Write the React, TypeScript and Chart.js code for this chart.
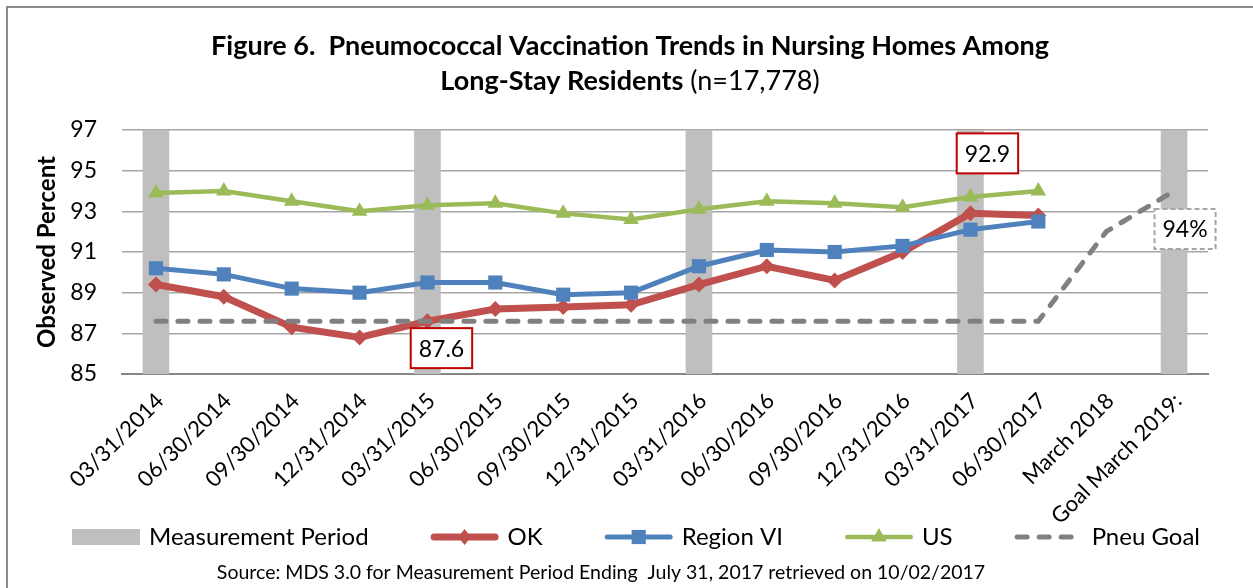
import React, { useEffect, useRef } from 'react';
import { Chart, registerables } from 'chart.js';

Chart.register(...registerables);

// ---------- data ----------
const categories = [
  '03/31/2014', '06/30/2014', '09/30/2014', '12/31/2014',
  '03/31/2015', '06/30/2015', '09/30/2015', '12/31/2015',
  '03/31/2016', '06/30/2016', '09/30/2016', '12/31/2016',
  '03/31/2017', '06/30/2017', 'March 2018', 'Goal March 2019:',
];
const measurementPeriod = [97, null, null, null, 97, null, null, null, 97, null, null, null, 97, null, null, 97];
const okValues = [89.4, 88.8, 87.3, 86.8, 87.6, 88.2, 88.3, 88.4, 89.4, 90.3, 89.6, 91.0, 92.9, 92.8, null, null];
const regionVIValues = [90.2, 89.9, 89.2, 89.0, 89.5, 89.5, 88.9, 89.0, 90.3, 91.1, 91.0, 91.3, 92.1, 92.5, null, null];
const usValues = [93.9, 94.0, 93.5, 93.0, 93.3, 93.4, 92.9, 92.6, 93.1, 93.5, 93.4, 93.2, 93.7, 94.0, null, null];
const pneuGoalValues = [87.6, 87.6, 87.6, 87.6, 87.6, 87.6, 87.6, 87.6, 87.6, 87.6, 87.6, 87.6, 87.6, 87.6, 92.0, 94.0];
const yMin = 85;
const yMax = 97;
const yStep = 2;

const titleLine1 = 'Figure 6.  Pneumococcal Vaccination Trends in Nursing Homes Among';
const titleLine2Bold = 'Long-Stay Residents';
const titleLine2Normal = ' (n=17,778)';
const yAxisTitle = 'Observed Percent';
const sourceText = 'Source: MDS 3.0 for Measurement Period Ending  July 31, 2017 retrieved on 10/02/2017';

// ---------- styles ----------
const FONT = 'Lato';
const GRAY_BAR = '#bfbfbf';
const RED = '#c0504d';
const BLUE = '#4f81bd';
const GREEN = '#9bbb59';
const GOAL_GRAY = '#808080';

const callouts = [
  { dataset: 1, index: 4, dx: 14, dy: 27, border: '#c00000', dash: [] as number[], suffix: '', digits: 1 },
  { dataset: 1, index: 12, dx: 17, dy: -60, border: '#c00000', dash: [] as number[], suffix: '', digits: 1 },
  { dataset: 4, index: 15, dx: 11, dy: 38, border: '#a6a6a6', dash: [5, 3], suffix: '%', digits: 0 },
];

const titlePlugin = {
  id: 'customTitle',
  afterDraw(chart: any) {
    const ctx = chart.ctx as CanvasRenderingContext2D;
    ctx.save();
    ctx.fillStyle = '#000';
    ctx.textBaseline = 'middle';
    ctx.textAlign = 'center';
    ctx.font = `bold 27px ${FONT}`;
    ctx.fillText(titleLine1, 630, 46);
    const w1 = ctx.measureText(titleLine2Bold).width;
    ctx.font = `27px ${FONT}`;
    const w2 = ctx.measureText(titleLine2Normal).width;
    const start = 630 - (w1 + w2) / 2;
    ctx.textAlign = 'left';
    ctx.font = `bold 27px ${FONT}`;
    ctx.fillText(titleLine2Bold, start, 81);
    ctx.font = `27px ${FONT}`;
    ctx.fillText(titleLine2Normal, start + w1, 81);

    // source line
    ctx.textAlign = 'center';
    ctx.font = `19.5px ${FONT}`;
    ctx.fillText(sourceText, 601, 573);
    ctx.restore();
  },
};

const legendPlugin = {
  id: 'customLegend',
  afterDraw(chart: any) {
    const ctx = chart.ctx as CanvasRenderingContext2D;
    const ds = chart.data.datasets;
    const swatchW = 68;
    const gap = 9;
    const itemGap = 62;
    const y = 537;
    ctx.save();
    ctx.font = `24px ${FONT}`;
    const widths = ds.map((d: any) => ctx.measureText(d.label).width);
    const total = widths.reduce((a: number, b: number) => a + b + swatchW + gap, 0) + itemGap * (ds.length - 1);
    let x = 636 - total / 2;
    ds.forEach((d: any, i: number) => {
      if (d.type === 'bar') {
        ctx.fillStyle = d.backgroundColor;
        ctx.fillRect(x, y - 8, swatchW, 16);
      } else {
        ctx.strokeStyle = d.borderColor;
        ctx.lineWidth = d.borderWidth;
        ctx.lineCap = 'round';
        ctx.setLineDash(d.borderDash || []);
        ctx.beginPath();
        ctx.moveTo(x + d.borderWidth / 2, y);
        ctx.lineTo(x + swatchW - d.borderWidth / 2, y);
        ctx.stroke();
        ctx.setLineDash([]);
        const cx = x + swatchW / 2;
        const r = d.pointRadius || 0;
        ctx.fillStyle = d.borderColor;
        if (r > 0) {
          ctx.beginPath();
          if (d.pointStyle === 'rect') {
            const s = Math.SQRT1_2 * r;
            ctx.rect(cx - s, y - s, 2 * s, 2 * s);
          } else if (d.pointStyle === 'rectRot') {
            ctx.moveTo(cx, y - r);
            ctx.lineTo(cx + r * 0.8, y);
            ctx.lineTo(cx, y + r);
            ctx.lineTo(cx - r * 0.8, y);
            ctx.closePath();
          } else if (d.pointStyle === 'triangle') {
            ctx.moveTo(cx, y - r);
            ctx.lineTo(cx + r * 0.866, y + r * 0.5);
            ctx.lineTo(cx - r * 0.866, y + r * 0.5);
            ctx.closePath();
          }
          ctx.fill();
        }
      }
      x += swatchW + gap;
      ctx.fillStyle = '#000';
      ctx.textAlign = 'left';
      ctx.textBaseline = 'middle';
      ctx.fillText(d.label, x, y);
      x += widths[i] + itemGap;
    });
    ctx.restore();
  },
};

const calloutPlugin = {
  id: 'callouts',
  afterDatasetsDraw(chart: any) {
    const ctx = chart.ctx as CanvasRenderingContext2D;
    ctx.save();
    ctx.font = `23px ${FONT}`;
    callouts.forEach((c) => {
      const meta = chart.getDatasetMeta(c.dataset);
      const pt = meta.data[c.index];
      const value = chart.data.datasets[c.dataset].data[c.index];
      const text = Number(value).toFixed(c.digits) + c.suffix;
      const w = ctx.measureText(text).width + 16;
      const h = 40;
      const cx = pt.x + c.dx;
      const cy = pt.y + c.dy;
      ctx.fillStyle = '#fff';
      ctx.fillRect(cx - w / 2, cy - h / 2, w, h);
      ctx.strokeStyle = c.border;
      ctx.lineWidth = 2;
      ctx.setLineDash(c.dash);
      ctx.strokeRect(cx - w / 2, cy - h / 2, w, h);
      ctx.setLineDash([]);
      ctx.fillStyle = '#000';
      ctx.textAlign = 'center';
      ctx.textBaseline = 'middle';
      ctx.fillText(text, cx, cy + 1);
    });
    ctx.restore();
  },
};

export default function App() {
  const ref = useRef<HTMLCanvasElement>(null);
  useEffect(() => {
    if (!ref.current) return;
    const chart = new Chart(ref.current, {
      type: 'bar',
      data: {
        labels: categories,
        datasets: [
          {
            type: 'bar',
            label: 'Measurement Period',
            data: measurementPeriod,
            backgroundColor: GRAY_BAR,
            barThickness: 26,
            order: 10,
          } as any,
          {
            type: 'line',
            label: 'OK',
            data: okValues,
            borderColor: RED,
            backgroundColor: RED,
            borderWidth: 7,
            pointStyle: 'rectRot',
            pointRadius: 8,
            pointBackgroundColor: RED,
            pointBorderWidth: 0,
            tension: 0,
            order: 4,
          },
          {
            type: 'line',
            label: 'Region VI',
            data: regionVIValues,
            borderColor: BLUE,
            backgroundColor: BLUE,
            borderWidth: 5,
            pointStyle: 'rect',
            pointRadius: 10,
            pointBackgroundColor: BLUE,
            pointBorderWidth: 0,
            tension: 0,
            order: 3,
          },
          {
            type: 'line',
            label: 'US',
            data: usValues,
            borderColor: GREEN,
            backgroundColor: GREEN,
            borderWidth: 4.5,
            pointStyle: 'triangle',
            pointRadius: 9,
            pointBackgroundColor: GREEN,
            pointBorderWidth: 0,
            tension: 0,
            order: 2,
          },
          {
            type: 'line',
            label: 'Pneu Goal',
            data: pneuGoalValues,
            borderColor: GOAL_GRAY,
            backgroundColor: GOAL_GRAY,
            borderWidth: 5,
            borderDash: [10, 12],
            borderCapStyle: 'round',
            pointRadius: 0,
            tension: 0,
            order: 1,
          },
        ],
      },
      options: {
        animation: false,
        responsive: false,
        maintainAspectRatio: false,
        layout: { padding: { left: 0, right: 45, top: 130, bottom: 0 } },
        plugins: {
          legend: { display: false },
          title: { display: false },
          tooltip: { enabled: false },
        },
        scales: {
          x: {
            grid: { display: false, drawTicks: false },
            border: { display: true, color: '#868686', width: 2 },
            ticks: {
              autoSkip: false,
              maxRotation: 45,
              minRotation: 45,
              padding: 14,
              labelOffset: 4,
              color: '#000',
              font: { family: FONT, size: 22 },
            },
            afterFit(scale: any) {
              scale.height = 214;
            },
          },
          y: {
            min: yMin,
            max: yMax,
            grid: {
              color: '#a6a6a6',
              lineWidth: 1.5,
              drawTicks: false,
            },
            border: { display: false },
            ticks: {
              stepSize: yStep,
              padding: 25,
              color: '#000',
              font: { family: FONT, size: 23 },
            },
            title: {
              display: true,
              text: yAxisTitle,
              color: '#000',
              font: { family: FONT, size: 24, weight: 'bold', lineHeight: 1.2 },
              padding: { top: 33, bottom: 0 },
            },
            afterFit(scale: any) {
              scale.width = 122;
            },
          },
        },
      },
      plugins: [titlePlugin, legendPlugin, calloutPlugin],
    } as any);
    return () => chart.destroy();
  }, []);

  return (
    <div style={{ position: 'fixed', left: 0, top: 0, width: 1253, height: 588, overflow: 'hidden', background: '#fff' }}>
      <div
        style={{
          position: 'absolute',
          left: 6,
          top: 6,
          width: 1400,
          height: 800,
          border: '2px solid #8c8c8c',
        }}
      />
      <canvas ref={ref} width={1253} height={588} style={{ position: 'absolute', left: 0, top: 0, width: 1253, height: 588 }} />
    </div>
  );
}
